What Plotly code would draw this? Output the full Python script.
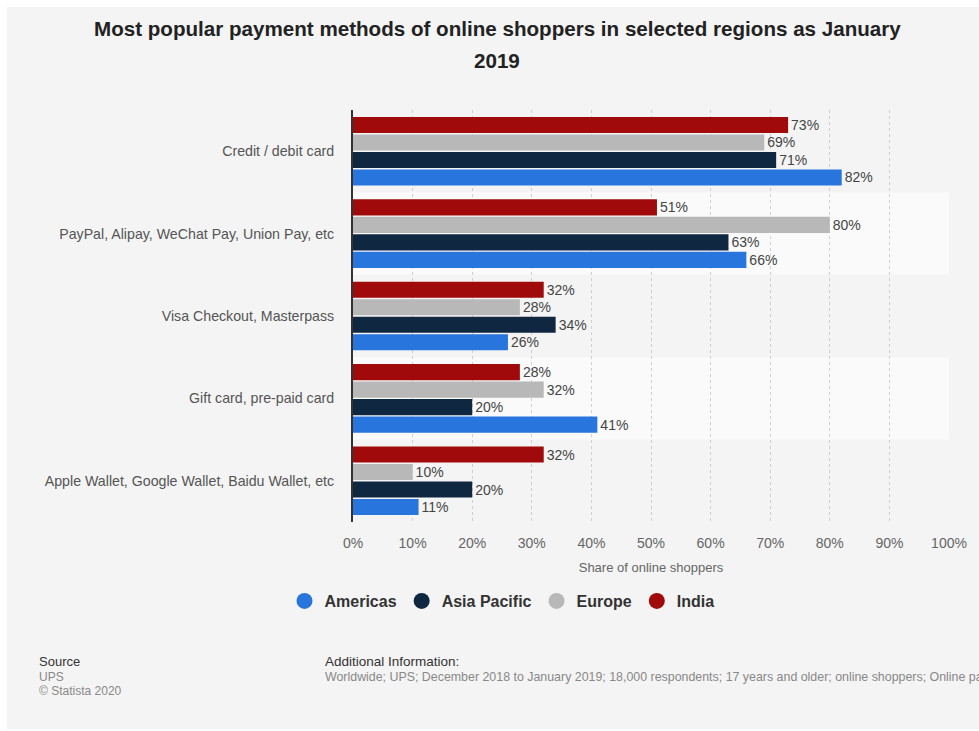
import plotly.graph_objects as go

categories = ["Credit / debit card", "PayPal, Alipay, WeChat Pay, Union Pay, etc",
              "Visa Checkout, Masterpass", "Gift card, pre-paid card",
              "Apple Wallet, Google Wallet, Baidu Wallet, etc"]
americas = [82, 66, 26, 41, 11]
asia_pacific = [71, 63, 34, 20, 20]
europe = [69, 80, 28, 32, 10]
india = [73, 51, 32, 28, 32]
series_names = ["Americas", "Asia Pacific", "Europe", "India"]
colors = ["#2876dd", "#0f2741", "#b8b8b8", "#a10a0a"]
x_ticks = [0, 10, 20, 30, 40, 50, 60, 70, 80, 90, 100]
x_tick_labels = [f"{v}%" for v in x_ticks]

W, H = 979, 731
L, R, T, B = 353, 30, 110, 209
pw = W - L - R
ph = H - T - B

def px(x):
    return (x - L) / pw

def py(y):
    return (H - B - y) / ph

FONT = "Liberation Sans, Arial, sans-serif"

fig = go.Figure()
for name, vals, col in zip(series_names, [americas, asia_pacific, europe, india], colors):
    fig.add_trace(go.Bar(
        y=categories, x=vals, name=name, orientation="h",
        marker=dict(color=col, line=dict(width=0)),
        text=[f"{v}%" for v in vals], textposition="outside", cliponaxis=False,
        textfont=dict(size=14, color="#444", family=FONT),
        showlegend=False, hoverinfo="x+name",
    ))
for name, col in zip(series_names, colors):
    fig.add_trace(go.Scatter(
        x=[None], y=[None], mode="markers", name=name,
        marker=dict(color=col, size=16, symbol="circle"),
    ))

shapes = [dict(type="rect", xref="paper", yref="paper",
               x0=px(7), x1=px(985), y0=py(729), y1=py(7),
               fillcolor="#f4f4f4", line=dict(width=0), layer="below")]
for i in [1, 3]:
    pos = len(categories) - 1 - i
    shapes.append(dict(type="rect", xref="paper", yref="y",
                       x0=0, x1=1, y0=pos - 0.5, y1=pos + 0.5,
                       fillcolor="#fafafa", line=dict(width=0), layer="below"))

annotations = [
    dict(text="<b>Most popular payment methods of online shoppers in selected regions as January</b>",
         xref="paper", yref="paper", x=px(497), y=py(28), xanchor="center", yanchor="middle",
         showarrow=False, font=dict(size=20.6, color="#222", family=FONT)),
    dict(text="<b>2019</b>",
         xref="paper", yref="paper", x=px(497), y=py(60), xanchor="center", yanchor="middle",
         showarrow=False, font=dict(size=20.6, color="#222", family=FONT)),
    dict(text="Source", xref="paper", yref="paper", x=px(37), y=py(661),
         xanchor="left", yanchor="middle", showarrow=False,
         font=dict(size=13, color="#333", family=FONT)),
    dict(text="UPS", xref="paper", yref="paper", x=px(37), y=py(677),
         xanchor="left", yanchor="middle", showarrow=False,
         font=dict(size=12, color="#888", family=FONT)),
    dict(text="© Statista 2020", xref="paper", yref="paper", x=px(37), y=py(691),
         xanchor="left", yanchor="middle", showarrow=False,
         font=dict(size=12, color="#888", family=FONT)),
    dict(text="Additional Information:", xref="paper", yref="paper", x=px(323), y=py(661),
         xanchor="left", yanchor="middle", showarrow=False,
         font=dict(size=13.5, color="#333", family=FONT)),
    dict(text="Worldwide; UPS; December 2018 to January 2019; 18,000 respondents; 17 years and older; online shoppers; Online panel survey",
         xref="paper", yref="paper", x=px(323), y=py(677),
         xanchor="left", yanchor="middle", showarrow=False,
         font=dict(size=12.4, color="#888", family=FONT)),
]

fig.update_layout(
    width=W, height=H,
    margin=dict(l=L, r=R, t=T, b=B),
    paper_bgcolor="white", plot_bgcolor="#f4f4f4",
    barmode="group", bargap=0.15, bargroupgap=0.08,
    font=dict(family=FONT),
    shapes=shapes, annotations=annotations,
    legend=dict(orientation="h", x=px(502), y=py(601), xanchor="center", yanchor="middle",
                font=dict(size=16, color="#333", family=FONT, weight="bold"),
                bgcolor="rgba(0,0,0,0)", itemwidth=30),
    xaxis=dict(range=[0, 100], tickvals=x_ticks, ticktext=x_tick_labels,
               showgrid=True, gridcolor="#cfcfcf", griddash="dot", gridwidth=1,
               zeroline=False, showline=False, ticks="",
               tickfont=dict(size=14, color="#666", family=FONT),
               ticklabelstandoff=11,
               title=dict(text="Share of online shoppers", standoff=12,
                          font=dict(size=13, color="#666", family=FONT))),
    yaxis=dict(categoryorder="array", categoryarray=categories[::-1],
               showline=True, linecolor="#333", linewidth=2, ticks="",
               showgrid=False, tickfont=dict(size=14.2, color="#555", family=FONT),
               ticklabelstandoff=14),
)

fig.write_html("out.html")
